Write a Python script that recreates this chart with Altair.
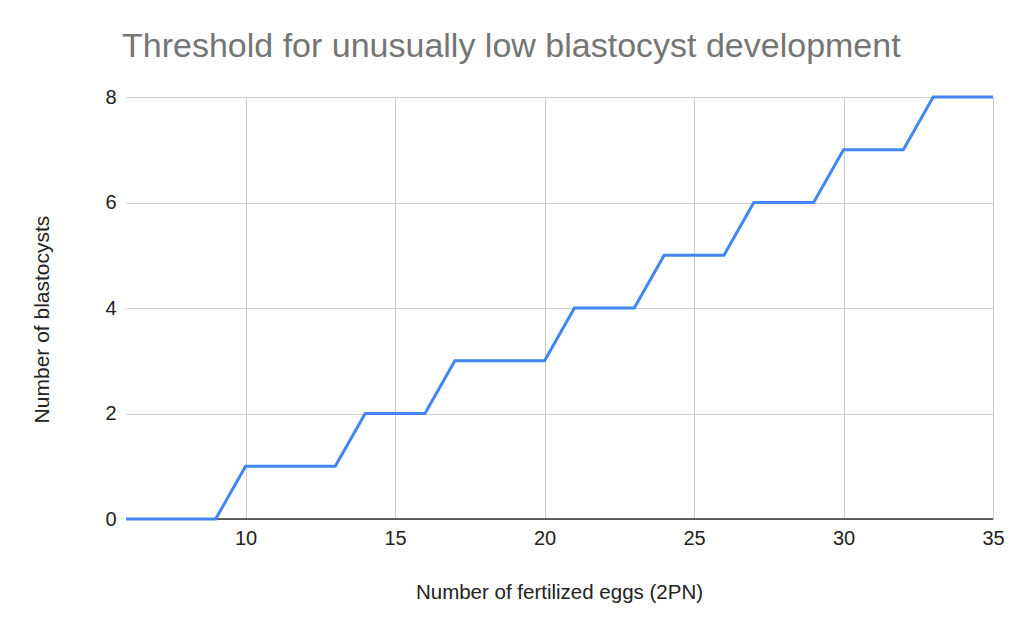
import altair as alt
import pandas as pd

eggs = list(range(6, 36))
blastocysts = [0, 0, 0, 0,
               1, 1, 1, 1,
               2, 2, 2,
               3, 3, 3, 3,
               4, 4, 4,
               5, 5, 5,
               6, 6, 6,
               7, 7, 7,
               8, 8, 8]
x_ticks = [10, 15, 20, 25, 30, 35]
y_ticks = [0, 2, 4, 6, 8]

df = pd.DataFrame({"eggs": eggs, "blastocysts": blastocysts})

FONT = "Liberation Sans"

chart = alt.Chart(df).mark_line(color="#4285F4", strokeWidth=3).encode(
    x=alt.X("eggs:Q",
            scale=alt.Scale(domain=[6, 35], nice=False, zero=False),
            axis=alt.Axis(values=x_ticks, title="Number of fertilized eggs (2PN)",
                          grid=True, gridColor="#cccccc", ticks=False,
                          domain=False, labelPadding=9, labelFontSize=20,
                          labelFlush=False,
                          labelColor="#222222", labelFont=FONT,
                          titleFont=FONT, titleFontSize=20.5, titleFontWeight="normal",
                          titleColor="#222222", titleX=433, titleY=73,
                          titleAlign="center", titleBaseline="middle")),
    y=alt.Y("blastocysts:Q",
            scale=alt.Scale(domain=[0, 8], nice=False),
            axis=alt.Axis(values=y_ticks, title="Number of blastocysts",
                          grid=True, gridColor="#cccccc", ticks=False,
                          domain=False, labelPadding=10, labelFontSize=20,
                          labelFlush=False,
                          labelColor="#222222", labelFont=FONT,
                          titleFont=FONT, titleFontSize=21, titleFontWeight="normal",
                          titleColor="#222222", titleX=-84, titleY=222,
                          titleAngle=-90, titleAlign="center",
                          titleBaseline="middle")),
)

baseline = alt.Chart(pd.DataFrame({"y": [0]})).mark_rule(
    color="#333333", strokeWidth=1.5).encode(y="y:Q")

final = alt.layer(baseline, chart).properties(
    width=867, height=422,
    title=alt.TitleParams(
        "Threshold for unusually low blastocyst development",
        anchor="start", frame="group", font=FONT, fontSize=34,
        fontWeight="normal", color="#757575", offset=23, dx=-4),
    autosize=alt.AutoSizeParams(type="none"),
    padding={"left": 126, "top": 97, "right": 31, "bottom": 114},
).configure_view(stroke=None)

final.save("out.html", embed_options={"renderer": "svg", "actions": False})
